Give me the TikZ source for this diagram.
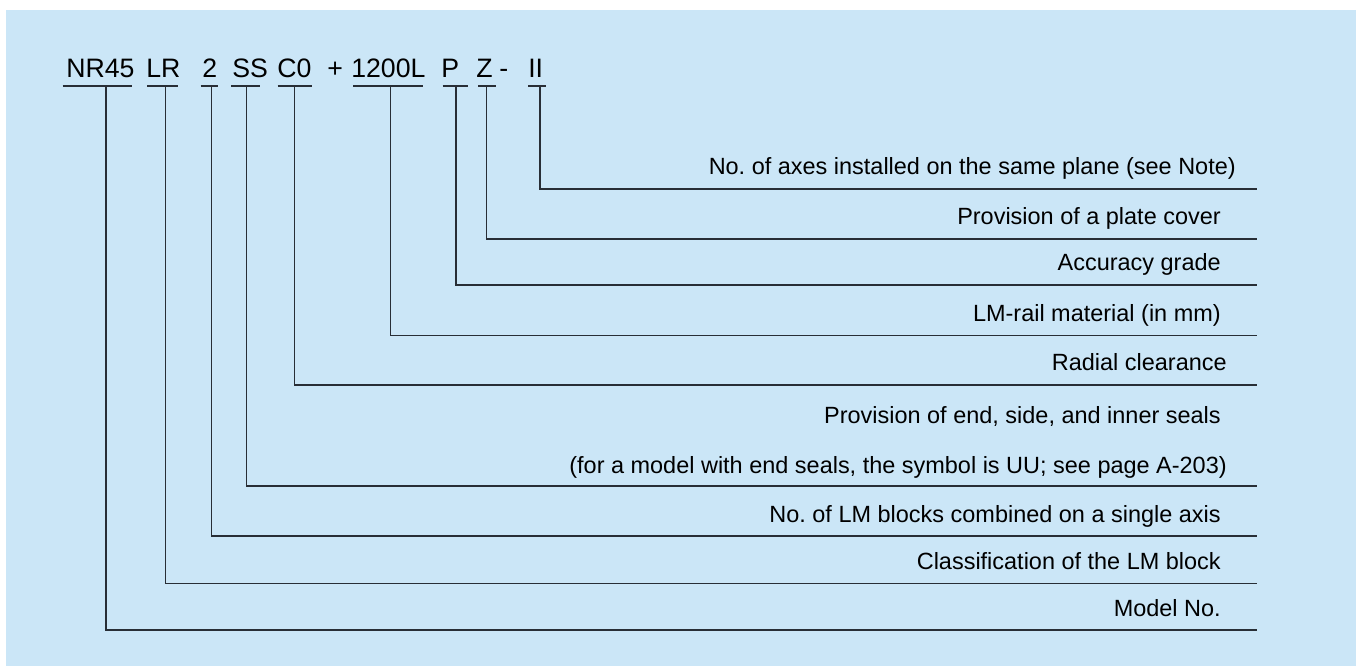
\documentclass[tikz,border=0pt]{standalone}
\usepackage{fontspec}
\setmainfont{Liberation Sans}
\definecolor{bgblue}{RGB}{203,230,247}
\definecolor{linec}{RGB}{40,46,54}
\begin{document}
\begin{tikzpicture}[x=0.75pt,y=-0.75pt,
  code/.style={anchor=base west,inner sep=0pt,font=\fontsize{20pt}{22pt}\selectfont},
  lbl/.style={anchor=base east,inner sep=0pt,font=\fontsize{17.6pt}{20pt}\selectfont},
  uline/.style={draw=linec,line width=0.9pt},
  conn/.style={draw=linec,line width=0.9pt}]
\useasboundingbox (0,0) rectangle (1356,666);
\fill[bgblue] (6,10) rectangle (1356,666);
% code tokens
\node[code] (cNR) at (66,78) {NR45};
\node[code] (cLR) at (146,78) {LR};
\node[code] (c2) at (202,78) {2};
\node[code] (cSS) at (232,78) {SS};
\node[code] (cC) at (277,78) {C0};
\node[code] (cplus) at (327,78) {+};
\node[code] (cL) at (351,78) {1200L};
\node[code] (cP) at (441,78) {P};
\node[code] (cZ) at (476,78) {Z};
\node[code] (cdash) at (499,78) {-};
\node[code] (cII) at (528,78) {II};
% underlines
\draw[uline] (62.7,86) -- (131.7,86);
\draw[uline] (147.3,86) -- (177.7,86);
\draw[uline] (200.7,86) -- (218.3,86);
\draw[uline] (231,86) -- (260,86);
\draw[uline] (277.7,86) -- (311.7,86);
\draw[uline] (353.3,86) -- (423.3,86);
\draw[uline] (442.7,86) -- (467.7,86);
\draw[uline] (478.3,86) -- (495.7,86);
\draw[uline] (528.3,86) -- (545.7,86);
% tick tops
\coordinate (tII) at (540,86);
\coordinate (tZ) at (486.3,86);
\coordinate (tP) at (456,86);
\coordinate (tL) at (390.7,86);
\coordinate (tC) at (294.7,86);
\coordinate (tSS) at (246.3,86);
\coordinate (t2) at (211.7,86);
\coordinate (tLR) at (165.7,86);
\coordinate (tNR) at (106,86);
% line ends
\coordinate (eII) at (1257,189);
\coordinate (eZ) at (1257,239);
\coordinate (eP) at (1257,285);
\coordinate (eL) at (1257,335.7);
\coordinate (eC) at (1257,385);
\coordinate (eSS) at (1257,486);
\coordinate (e2) at (1257,536);
\coordinate (eLR) at (1257,583.3);
\coordinate (eNR) at (1257,630);
% connectors
\draw[conn] (tII) |- (eII);
\draw[conn] (tZ) |- (eZ);
\draw[conn] (tP) |- (eP);
\draw[conn] (tL) |- (eL);
\draw[conn] (tC) |- (eC);
\draw[conn] (tSS) |- (eSS);
\draw[conn] (t2) |- (e2);
\draw[conn] (tLR) |- (eLR);
\draw[conn] (tNR) |- (eNR);
% labels
\node[lbl] (lII) at (1236,175) {No.\ of axes installed on the same plane (see Note)};
\node[lbl] (lZ) at (1221,225) {Provision of a plate cover};
\node[lbl] (lP) at (1221,271) {Accuracy grade};
\node[lbl] (lL) at (1221,322) {LM-rail material (in mm)};
\node[lbl] (lC) at (1227,371) {Radial clearance};
\node[lbl] (lSSa) at (1221,423) {Provision of end, side, and inner seals};
\node[lbl] (lSSb) at (1227,473) {(for a model with end seals, the symbol is UU; see page A-203)};
\node[lbl] (l2) at (1221,522) {No.\ of LM blocks combined on a single axis};
\node[lbl] (lLR) at (1221,569) {Classification of the LM block};
\node[lbl] (lNR) at (1221,616) {Model No.};
\end{tikzpicture}
\end{document}
